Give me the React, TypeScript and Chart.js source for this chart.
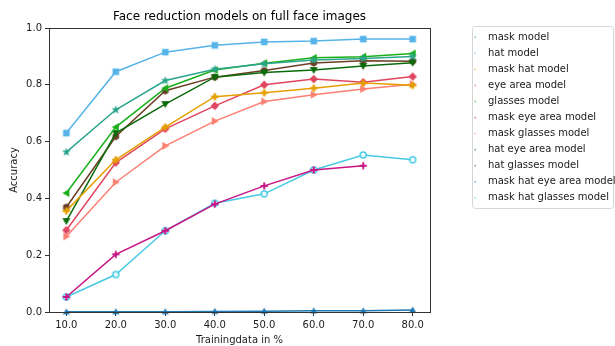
import React, { useEffect, useRef } from "react";
import { Chart, registerables } from "chart.js";

Chart.register(...registerables);

const trainingData = [10, 20, 30, 40, 50, 60, 70, 80];
const xTicks = [10, 20, 30, 40, 50, 60, 70, 80];
const yTicks = [0, 0.2, 0.4, 0.6, 0.8, 1.0];

const maskModel = [0.563, 0.712, 0.815, 0.855, 0.874, 0.887, 0.893, 0.9];
const hatModel = [0.63, 0.846, 0.915, 0.939, 0.951, 0.954, 0.961, 0.961];
const maskHatModel = [0.356, 0.536, 0.651, 0.758, 0.772, 0.788, 0.806, 0.798];
const eyeAreaModel = [0.288, 0.526, 0.645, 0.726, 0.8, 0.82, 0.809, 0.829];
const glassesModel = [0.419, 0.651, 0.788, 0.852, 0.876, 0.895, 0.899, 0.91];
const maskEyeAreaModel = [0.053, 0.203, 0.286, 0.38, 0.444, 0.5, 0.515];
const maskGlassesModel = [0.266, 0.457, 0.585, 0.672, 0.741, 0.765, 0.785, 0.802];
const hatEyeAreaModel = [0.32, 0.63, 0.732, 0.827, 0.843, 0.852, 0.866, 0.878];
const hatGlassesModel = [0.369, 0.618, 0.779, 0.827, 0.85, 0.877, 0.885, 0.883];
const maskHatEyeAreaModel = [0.0005, 0.001, 0.001, 0.002, 0.003, 0.004, 0.004, 0.007];
const maskHatGlassesModel = [0.053, 0.132, 0.286, 0.383, 0.416, 0.5, 0.553, 0.536];

const seriesNames = [
  "mask model",
  "hat model",
  "mask hat model",
  "eye area model",
  "glasses model",
  "mask eye area model",
  "mask glasses model",
  "hat eye area model",
  "hat glasses model",
  "mask hat eye area model",
  "mask hat glasses model",
];
const seriesValues = [
  maskModel,
  hatModel,
  maskHatModel,
  eyeAreaModel,
  glassesModel,
  maskEyeAreaModel,
  maskGlassesModel,
  hatEyeAreaModel,
  hatGlassesModel,
  maskHatEyeAreaModel,
  maskHatGlassesModel,
];
const seriesColors = [
  "#2ca58d",
  "#56b4e9",
  "#e69f00",
  "#e0455f",
  "#1aaf1a",
  "#c71585",
  "#fa8072",
  "#0b6b0b",
  "#6b3e26",
  "#1f77b4",
  "#48cae4",
];
const seriesMarkers = [
  "star",
  "square",
  "plusFilled",
  "diamond",
  "triLeft",
  "plus",
  "triRight",
  "triDown",
  "hexagon",
  "triUp",
  "circleHollow",
];

function makeMarker(shape: string, color: string): HTMLCanvasElement {
  const s = 12;
  const c = document.createElement("canvas");
  c.width = s;
  c.height = s;
  const ctx = c.getContext("2d")!;
  const cx = s / 2;
  const cy = s / 2;
  ctx.fillStyle = color;
  ctx.strokeStyle = color;
  ctx.beginPath();
  const poly = (pts: number[][]) => {
    ctx.moveTo(cx + pts[0][0], cy + pts[0][1]);
    for (let i = 1; i < pts.length; i++) ctx.lineTo(cx + pts[i][0], cy + pts[i][1]);
    ctx.closePath();
  };
  switch (shape) {
    case "star": {
      const pts: number[][] = [];
      for (let i = 0; i < 10; i++) {
        const r = i % 2 === 0 ? 4.6 : 1.9;
        const a = -Math.PI / 2 + (i * Math.PI) / 5;
        pts.push([r * Math.cos(a), r * Math.sin(a)]);
      }
      poly(pts);
      ctx.fill();
      break;
    }
    case "square":
      ctx.rect(cx - 3.3, cy - 3.3, 6.6, 6.6);
      ctx.fill();
      break;
    case "plusFilled": {
      const a = 1.3;
      const b = 3.6;
      poly([
        [-a, -b], [a, -b], [a, -a], [b, -a], [b, a], [a, a],
        [a, b], [-a, b], [-a, a], [-b, a], [-b, -a], [-a, -a],
      ]);
      ctx.fill();
      break;
    }
    case "plus": {
      const a = 1.0;
      const b = 3.6;
      poly([
        [-a, -b], [a, -b], [a, -a], [b, -a], [b, a], [a, a],
        [a, b], [-a, b], [-a, a], [-b, a], [-b, -a], [-a, -a],
      ]);
      ctx.fill();
      break;
    }
    case "diamond":
      poly([[0, -4.2], [4.2, 0], [0, 4.2], [-4.2, 0]]);
      ctx.fill();
      break;
    case "triLeft":
      poly([[-4, 0], [3, -4], [3, 4]]);
      ctx.fill();
      break;
    case "triRight":
      poly([[4, 0], [-3, -4], [-3, 4]]);
      ctx.fill();
      break;
    case "triDown":
      poly([[0, 4], [-4, -3], [4, -3]]);
      ctx.fill();
      break;
    case "triUp":
      poly([[0, -3.5], [-3.5, 2.5], [3.5, 2.5]]);
      ctx.fill();
      break;
    case "hexagon": {
      const pts: number[][] = [];
      for (let i = 0; i < 6; i++) {
        const a = -Math.PI / 2 + (i * Math.PI) / 3;
        pts.push([3.8 * Math.cos(a), 3.8 * Math.sin(a)]);
      }
      poly(pts);
      ctx.fill();
      break;
    }
    case "circleHollow":
      ctx.arc(cx, cy, 3, 0, Math.PI * 2);
      ctx.fillStyle = "rgba(255,255,255,0.85)";
      ctx.fill();
      ctx.lineWidth = 1.5;
      ctx.stroke();
      break;
  }
  return c;
}

const FONT = "'DejaVu Sans', sans-serif";

const framePlugin = {
  id: "frame",
  afterDatasetsDraw(chart: any) {
    const { ctx, chartArea } = chart;
    ctx.save();
    ctx.strokeStyle = "#333";
    ctx.lineWidth = 1;
    ctx.strokeRect(
      Math.round(chartArea.left) + 0.5,
      Math.round(chartArea.top) + 0.5,
      Math.round(chartArea.right - chartArea.left),
      Math.round(chartArea.bottom - chartArea.top)
    );
    ctx.restore();
  },
};

const legendPlugin = {
  id: "customLegend",
  afterDraw(chart: any) {
    const ctx = chart.ctx;
    const x0 = 472.5;
    const y0 = 26.5;
    const w = 141;
    const h = 182;
    ctx.save();
    ctx.beginPath();
    const r = 3;
    ctx.moveTo(x0 + r, y0);
    ctx.lineTo(x0 + w - r, y0);
    ctx.quadraticCurveTo(x0 + w, y0, x0 + w, y0 + r);
    ctx.lineTo(x0 + w, y0 + h - r);
    ctx.quadraticCurveTo(x0 + w, y0 + h, x0 + w - r, y0 + h);
    ctx.lineTo(x0 + r, y0 + h);
    ctx.quadraticCurveTo(x0, y0 + h, x0, y0 + h - r);
    ctx.lineTo(x0, y0 + r);
    ctx.quadraticCurveTo(x0, y0, x0 + r, y0);
    ctx.closePath();
    ctx.fillStyle = "rgba(255,255,255,0.8)";
    ctx.fill();
    ctx.strokeStyle = "#d6d6d6";
    ctx.lineWidth = 1;
    ctx.stroke();
    ctx.font = "10px " + FONT;
    ctx.textBaseline = "middle";
    ctx.textAlign = "left";
    chart.data.datasets.forEach((ds: any, i: number) => {
      const y = 37 + i * 16.06;
      ctx.fillStyle = ds.borderColor;
      ctx.globalAlpha = 0.6;
      ctx.fillRect(474.5, y - 0.5, 1.5, 1.5);
      ctx.globalAlpha = 1;
      ctx.fillStyle = "#1a1a1a";
      ctx.fillText(ds.label, 488, y);
    });
    ctx.restore();
  },
};

export default function App() {
  const canvasRef = useRef<HTMLCanvasElement | null>(null);

  useEffect(() => {
    document.body.style.margin = "0";
    const canvas = canvasRef.current;
    if (!canvas) return;
    const datasets = seriesNames.map((name, i) => {
      const marker = makeMarker(seriesMarkers[i], seriesColors[i]);
      return {
        label: name,
        data: seriesValues[i].map((v, j) => ({ x: trainingData[j], y: v })),
        borderColor: seriesColors[i],
        backgroundColor: seriesColors[i],
        borderWidth: 1.5,
        pointStyle: marker,
        pointRadius: 4,
        pointHoverRadius: 4,
        tension: 0,
        clip: false as any,
      };
    });
    const chart = new Chart(canvas, {
      type: "line",
      data: { datasets },
      options: {
        responsive: false,
        animation: false,
        events: [],
        layout: { padding: { left: 0, right: 185, top: 0, bottom: 0 } },
        plugins: {
          legend: { display: false },
          tooltip: { enabled: false },
          title: {
            display: true,
            text: "Face reduction models on full face images",
            fullSize: false,
            color: "#000",
            font: { family: FONT, size: 12, weight: "normal" },
            padding: { top: 10, bottom: 3.6 },
          },
        },
        scales: {
          x: {
            type: "linear",
            min: 6.5,
            max: 83.5,
            afterBuildTicks: (scale: any) => {
              scale.ticks = xTicks.map((v) => ({ value: v }));
            },
            afterFit: (scale: any) => {
              scale.height = 34;
            },
            ticks: {
              color: "#1a1a1a",
              font: { family: FONT, size: 10 },
              padding: 3,
              maxRotation: 0,
              autoSkip: false,
              callback: (v: any) => Number(v).toFixed(1),
            },
            grid: {
              drawOnChartArea: false,
              drawTicks: true,
              tickLength: 4,
              color: "#333",
            },
            border: { display: false },
            title: {
              display: true,
              text: "Trainingdata in %",
              color: "#1a1a1a",
              font: { family: FONT, size: 10 },
              padding: { top: 1, bottom: 0 },
            },
          },
          y: {
            type: "linear",
            min: 0,
            max: 1,
            afterBuildTicks: (scale: any) => {
              scale.ticks = yTicks.map((v) => ({ value: v }));
            },
            afterFit: (scale: any) => {
              scale.width = 49;
            },
            ticks: {
              color: "#1a1a1a",
              font: { family: FONT, size: 10 },
              padding: 3,
              callback: (v: any) => Number(v).toFixed(1),
            },
            grid: {
              drawOnChartArea: false,
              drawTicks: true,
              tickLength: 4,
              color: "#333",
            },
            border: { display: false },
            title: {
              display: true,
              text: "Accuracy",
              color: "#1a1a1a",
              font: { family: FONT, size: 10 },
              padding: { top: 8, bottom: 0 },
            },
          },
        },
      },
      plugins: [framePlugin, legendPlugin],
    } as any);
    return () => chart.destroy();
  }, []);

  return (
    <div style={{ width: 615, height: 346 }}>
      <canvas ref={canvasRef} width={615} height={346} />
    </div>
  );
}
